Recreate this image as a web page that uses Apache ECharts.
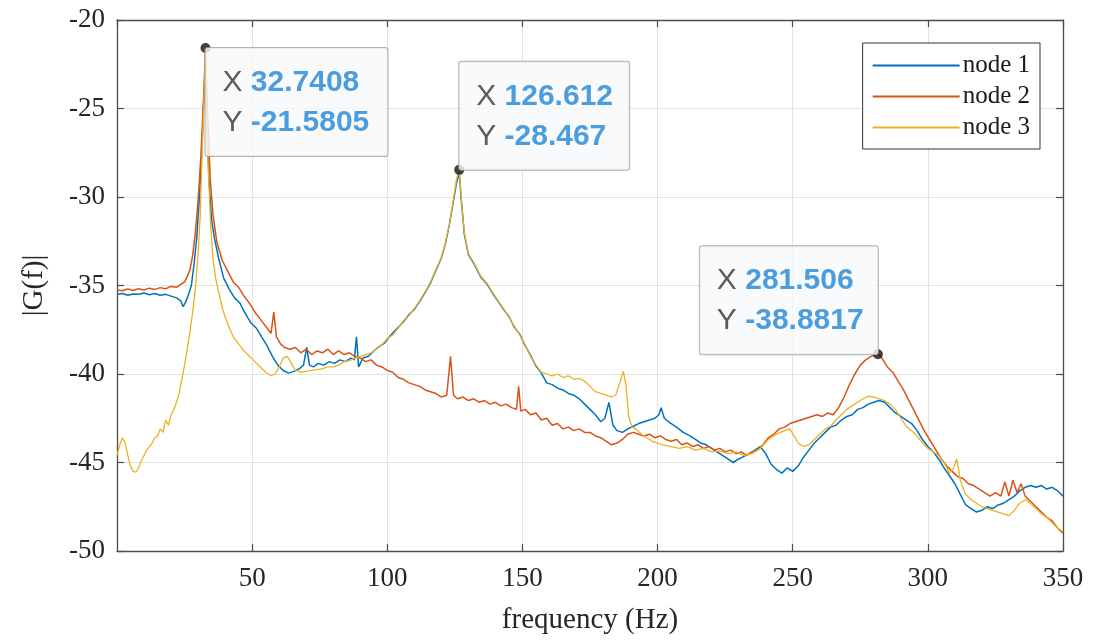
<!DOCTYPE html>
<html>
<head>
<meta charset="utf-8">
<title>|G(f)| frequency response</title>
<script src="https://cdn.jsdelivr.net/npm/echarts@6.0.0/dist/echarts.min.js"></script>
<style>
  html, body { margin: 0; padding: 0; background: #fff; }
  #chart { width: 1107px; height: 640px; }
</style>
</head>
<body>
<div id="chart"></div>
<script>
// axis ticks
var xTicks = [0, 50, 100, 150, 200, 250, 300, 350];
var yTicks = [-50, -45, -40, -35, -30, -25, -20];

var seriesNames = ['node 1', 'node 2', 'node 3'];

// [frequency Hz, |G(f)|]
var node1 = [
  [0,-35.5],[2,-35.45],[4,-35.55],[6,-35.48],[8,-35.5],[10,-35.42],[12,-35.52],[14,-35.45],[16,-35.55],[18,-35.5],
  [20,-35.6],[22,-35.7],[23.5,-35.85],[24.5,-36.2],[25.5,-35.9],[26.5,-35.5],[27.5,-35.0],[28.5,-33.8],[29.5,-32.3],
  [30.5,-30.0],[31.5,-27.0],[32.2,-24.2],[32.74,-22.4],[33.3,-25.5],[34,-29.0],[35,-31.3],[36,-32.3],[37.5,-33.4],
  [39.5,-34.6],[41.5,-35.2],[43.5,-35.7],[45.5,-36.0],[47.5,-36.6],[49.5,-37.1],[51.5,-37.4],[53.5,-37.9],[55.5,-38.4],
  [57.5,-39.0],[59.5,-39.5],[61.5,-39.8],[63.5,-39.95],[65.5,-39.85],[67.5,-39.7],[69,-39.5],[70.2,-38.5],[71.2,-39.5],
  [72.7,-39.6],[74.5,-39.4],[76.5,-39.5],[78.5,-39.3],[80.5,-39.4],[82.5,-39.2],[84.5,-39.3],[86.5,-39.1],[87.8,-39.2],
  [88.6,-37.9],[89.4,-39.6],[91,-39.1],[93,-39.0],[95,-38.7],[97,-38.45],[99,-38.25],[101,-37.85],[103.5,-37.45],
  [106,-37.05],[108,-36.65],[110,-36.35],[112,-35.9],[114,-35.4],[116,-34.85],[118,-34.15],[120,-33.45],[121.5,-32.65],
  [123,-31.55],[124.5,-30.2],[125.5,-29.3],[126.6,-28.6],[127.5,-30.4],[128.5,-32.1],[130,-33.25],[132,-33.75],
  [134.5,-34.5],[137,-34.95],[139,-35.45],[141,-35.9],[143,-36.35],[145,-36.75],[147,-37.35],[149,-37.75],[151,-38.4],
  [153,-38.95],[155,-39.55],[157,-39.95],[159,-40.5],[161,-40.6],[163,-40.8],[165,-40.9],[167,-41.1],[169,-41.2],
  [171,-41.4],[173,-41.7],[175,-42.0],[177,-42.3],[179,-42.7],[180.5,-42.5],[182,-41.6],[183.5,-42.9],[185,-43.2],
  [187,-43.3],[189,-43.1],[191,-42.95],[193,-42.8],[195,-42.7],[197,-42.6],[199,-42.5],[200.5,-42.3],[201.3,-41.9],
  [202.5,-42.5],[204.5,-42.75],[207,-43.0],[209.5,-43.3],[212,-43.5],[214,-43.7],[216,-43.9],[218,-44.0],[220,-44.2],
  [222,-44.4],[224,-44.6],[226,-44.8],[228,-45.0],[230,-44.8],[232,-44.65],[234,-44.5],[236,-44.3],[238,-44.1],
  [240,-44.5],[242,-45.1],[244,-45.4],[246,-45.6],[248,-45.3],[250,-45.5],[252,-45.2],[254,-44.7],[256,-44.3],
  [258,-43.9],[260,-43.6],[262,-43.3],[264,-43.0],[266,-42.9],[268,-42.6],[270,-42.4],[272,-42.3],[274,-42.0],
  [276,-41.9],[278,-41.7],[280,-41.6],[282,-41.5],[284,-41.6],[286,-41.9],[288,-42.2],[290,-42.4],[292,-42.6],
  [294,-42.8],[296,-43.2],[298,-43.7],[300,-44.1],[302,-44.4],[304,-44.8],[306,-45.3],[308,-45.75],[310,-46.2],
  [312,-46.8],[314,-47.4],[316,-47.6],[318,-47.8],[320,-47.7],[322,-47.5],[324,-47.6],[326,-47.4],[328,-47.3],
  [330,-47.1],[332,-46.9],[334,-46.6],[336,-46.4],[338,-46.3],[340,-46.4],[342,-46.3],[344,-46.5],[346,-46.4],
  [348,-46.6],[350,-46.9]
];

var node2 = [
  [0,-35.25],[2,-35.3],[4,-35.2],[6,-35.28],[8,-35.18],[10,-35.25],[12,-35.15],[14,-35.22],[16,-35.12],[18,-35.18],
  [20,-35.05],[22,-35.1],[24,-34.9],[25,-34.8],[26,-34.5],[27,-34.1],[28,-33.3],[29,-32.0],[30,-30.2],[31,-27.8],
  [32,-24.5],[32.74,-21.58],[33.5,-25.2],[34.5,-29.0],[35.5,-31.0],[37,-32.6],[39,-33.6],[41,-34.2],[43,-34.8],
  [45,-35.1],[47,-35.6],[49,-36.0],[51,-36.5],[53,-36.9],[55,-37.3],[57,-37.7],[58,-36.5],[59,-37.9],[60.5,-38.3],
  [62,-38.5],[64,-38.6],[66,-38.5],[68,-38.8],[70,-38.6],[72,-38.9],[74,-38.7],[76,-38.8],[78,-38.6],[80,-38.9],
  [82,-38.7],[84,-38.9],[86,-38.8],[88,-39.0],[90,-39.1],[92,-39.3],[94,-39.2],[96,-39.5],[98,-39.6],[100,-39.8],
  [102,-39.9],[104,-40.2],[106,-40.3],[108,-40.5],[110,-40.6],[112,-40.7],[114,-40.9],[116,-41.0],[118,-41.1],
  [120,-41.3],[122,-41.2],[123.4,-39.0],[124.5,-41.2],[126,-41.4],[128,-41.3],[130,-41.5],[132,-41.4],[134,-41.6],
  [136,-41.5],[138,-41.7],[140,-41.6],[142,-41.8],[144,-41.7],[146,-41.9],[147.8,-42.0],[148.6,-40.7],[149.4,-42.1],
  [151,-42.0],[153,-42.3],[155,-42.2],[157,-42.6],[159,-42.5],[161,-42.9],[163,-42.8],[165,-43.1],[167,-43.0],
  [169,-43.2],[171,-43.1],[173,-43.3],[175,-43.3],[177,-43.5],[179,-43.6],[181,-43.8],[183,-44.0],[185,-43.9],
  [187,-43.7],[189,-43.4],[191,-43.3],[193,-43.4],[195,-43.5],[197,-43.4],[199,-43.6],[201,-43.5],[203,-43.7],
  [205,-43.8],[207,-43.7],[209,-44.0],[211,-43.9],[213,-44.1],[215,-44.0],[217,-44.2],[219,-44.1],[221,-44.3],
  [223,-44.2],[225,-44.4],[227,-44.3],[229,-44.5],[231,-44.4],[233,-44.6],[235,-44.4],[237,-44.3],[239,-44.0],
  [241,-43.6],[243,-43.4],[245,-43.1],[247,-43.0],[249,-42.8],[251,-42.7],[253,-42.6],[255,-42.5],[257,-42.4],
  [259,-42.3],[261,-42.4],[263,-42.2],[265,-42.3],[267,-41.9],[269,-41.3],[271,-40.6],[273,-40.0],[275,-39.5],
  [277,-39.2],[279,-39.0],[281.5,-38.88],[283,-39.1],[285,-39.6],[287,-39.9],[289,-40.4],[291,-40.9],[293,-41.5],
  [295,-42.1],[297,-42.7],[299,-43.3],[301,-43.8],[303,-44.3],[305,-44.8],[307,-45.2],[309,-45.5],[311,-45.8],
  [313,-45.9],[315,-46.2],[317,-46.3],[319,-46.5],[321,-46.7],[323,-46.9],[325,-46.7],[327,-46.9],[328.5,-46.1],
  [330,-46.9],[331.5,-46.0],[333,-46.7],[334.5,-46.2],[336,-46.9],[338,-47.2],[340,-47.5],[342,-47.8],[344,-48.1],
  [346,-48.3],[348,-48.7],[350,-49.0]
];

var node3 = [
  [0,-44.6],[1,-44.0],[2,-43.6],[3,-43.9],[4,-44.6],[5,-45.2],[6,-45.5],[7,-45.55],[8,-45.3],[9,-44.9],[10,-44.6],
  [11,-44.3],[12,-44.1],[13,-43.9],[14,-43.6],[15,-43.5],[16,-43.1],[17,-43.3],[18,-42.6],[19,-42.9],[20,-42.3],
  [21,-42.0],[22,-41.6],[23,-41.1],[24,-40.3],[25,-39.5],[26,-38.6],[27,-37.6],[28,-36.5],[29,-35.2],[30,-33.2],
  [30.8,-31.0],[31.6,-27.0],[32.2,-24.5],[32.74,-21.9],[33.2,-25.0],[33.8,-28.5],[34.6,-31.5],[35.5,-33.5],
  [36.5,-34.6],[37.5,-35.3],[39,-36.3],[41,-37.2],[43,-37.9],[45,-38.3],[47,-38.7],[49,-39.0],[51,-39.3],[53,-39.6],
  [55,-39.9],[57,-40.1],[58.5,-40.0],[60,-39.6],[61.5,-39.1],[63,-39.0],[64.5,-39.4],[66,-39.8],[68,-39.9],
  [70,-39.85],[72,-39.8],[74,-39.75],[76,-39.7],[78,-39.6],[80,-39.6],[82,-39.5],[84,-39.3],[86,-39.25],[88,-39.1],
  [90,-39.0],[92,-38.9],[94,-38.8],[96,-38.6],[98,-38.35],[100,-38.0],[102,-37.8],[104,-37.4],[106,-37.0],
  [108,-36.7],[110,-36.3],[112,-35.85],[114,-35.35],[116,-34.8],[118,-34.1],[120,-33.4],[121.5,-32.6],[123,-31.5],
  [124.5,-30.1],[125.6,-29.0],[126.612,-28.467],[127.5,-30.3],[128.5,-32.0],[130,-33.2],[132,-33.7],[134.5,-34.45],
  [137,-34.9],[139,-35.4],[141,-35.85],[143,-36.3],[145,-36.8],[147,-37.3],[149,-37.8],[151,-38.35],[153,-39.0],
  [155,-39.5],[157,-39.9],[159,-40.0],[161,-40.1],[163,-40.0],[165,-40.2],[167,-40.1],[169,-40.3],[171,-40.25],
  [173,-40.4],[175,-40.7],[177,-41.0],[179,-41.1],[181,-41.2],[183,-41.3],[184.5,-41.2],[186,-40.5],[187.3,-39.85],
  [188.3,-40.6],[189.3,-42.4],[190.5,-43.0],[192,-43.1],[194,-43.4],[196,-43.6],[198,-43.8],[200,-43.9],[202,-44.0],
  [205,-44.1],[208,-44.2],[211,-44.1],[214,-44.3],[217,-44.2],[220,-44.4],[223,-44.35],[226,-44.5],[229,-44.4],
  [232,-44.6],[235,-44.5],[238,-44.2],[241,-43.7],[244,-43.4],[247,-43.2],[249,-43.1],[250.5,-43.5],[252,-43.9],
  [254,-44.1],[256,-44.0],[258,-43.7],[260,-43.4],[262,-43.1],[264,-42.95],[266,-42.6],[268,-42.3],[270,-42.0],
  [272,-41.8],[274,-41.6],[276,-41.4],[278,-41.25],[280,-41.3],[282,-41.4],[284,-41.5],[286,-41.7],[288,-42.0],
  [290,-42.5],[292,-42.95],[294,-43.2],[296,-43.5],[298,-43.9],[300,-44.2],[302,-44.4],[304,-44.6],[306,-45.0],
  [308,-45.6],[309.5,-45.3],[310.7,-44.8],[312,-46.0],[314,-46.8],[316,-47.1],[318,-47.3],[320,-47.5],[322,-47.6],
  [324,-47.7],[326,-47.8],[328,-47.9],[330,-48.0],[332,-47.7],[334,-47.3],[336,-47.1],[338,-47.3],[340,-47.6],
  [342,-47.9],[344,-48.1],[346,-48.4],[348,-48.7],[350,-48.9]
];

// data tips
var tipX = [32.7408, 126.612, 281.506];
var tipY = [-21.5805, -28.467, -38.8817];

var colors = ['#0072BD', '#D95319', '#EDB120'];
var serif = 'Liberation Serif, Times New Roman, serif';
var sans = 'Liberation Sans, Arial, sans-serif';

var chart = echarts.init(document.getElementById('chart'));

var dotSize = 10;
var tipPad = [15, 17, 13, 17];
// box width of each tip, and which corner of the box sits on the point
var tipBoxW = [182, 170, 178];
var tipCorner = [
  { right: false, bottom: false },
  { right: false, bottom: true },
  { right: true, bottom: true }
];

var tipData = tipX.map(function (x, i) {
  var c = tipCorner[i];
  var w = tipBoxW[i];
  return {
    value: [x, tipY[i]],
    label: {
      show: true,
      width: w - tipPad[1] - tipPad[3],
      position: [dotSize / 2 - (c.right ? w : 0), dotSize / 2],
      align: 'left',
      verticalAlign: c.bottom ? 'bottom' : 'top',
      formatter: '{k|X} {v|' + x + '}\n{k|Y} {v|' + tipY[i] + '}'
    }
  };
});

function axisBase(pos, ticks, showLabel) {
  return {
    type: 'value',
    position: pos,
    min: ticks[0],
    max: ticks[ticks.length - 1],
    interval: ticks[1] - ticks[0],
    axisLine: { show: true, onZero: false, lineStyle: { color: '#4d4d4d', width: 1.3 } },
    axisTick: { show: true, inside: true, length: 7, lineStyle: { color: '#4d4d4d', width: 1.2 } },
    axisLabel: { show: showLabel, color: '#262626', fontFamily: serif, fontSize: 27 },
    splitLine: { show: false }
  };
}

var xBottom = axisBase('bottom', xTicks, true);
xBottom.axisLabel.showMinLabel = false;
xBottom.axisLabel.margin = 14;
xBottom.splitLine = { show: true, lineStyle: { color: '#e3e3e3', width: 1 } };
xBottom.name = 'frequency (Hz)';
xBottom.nameLocation = 'middle';
xBottom.nameGap = 55;
xBottom.nameTextStyle = { color: '#262626', fontFamily: serif, fontSize: 29 };

var yLeft = axisBase('left', yTicks, true);
yLeft.axisLabel.margin = 12;
yLeft.splitLine = { show: true, lineStyle: { color: '#e3e3e3', width: 1 } };
yLeft.name = '|G(f)|';
yLeft.nameLocation = 'middle';
yLeft.nameGap = 68;
yLeft.nameTextStyle = { color: '#262626', fontFamily: serif, fontSize: 29 };

var option = {
  backgroundColor: '#ffffff',
  animation: false,
  grid: { left: 117, right: 44, top: 20, bottom: 88 },
  xAxis: [xBottom, axisBase('top', xTicks, false)],
  yAxis: [yLeft, axisBase('right', yTicks, false)],
  legend: {
    orient: 'vertical',
    right: 67,
    top: 43,
    data: seriesNames,
    icon: 'rect',
    itemWidth: 87,
    itemHeight: 2,
    itemGap: 6,
    padding: [10, 10, 9, 10],
    backgroundColor: '#ffffff',
    borderColor: '#333333',
    borderWidth: 1,
    borderRadius: 0,
    textStyle: { color: '#1a1a1a', fontFamily: serif, fontSize: 25, padding: [0, 0, 0, -2] }
  },
  series: [
    { name: seriesNames[0], type: 'line', data: node1, symbol: 'none', color: colors[0], lineStyle: { width: 1.5 }, z: 2 },
    { name: seriesNames[1], type: 'line', data: node2, symbol: 'none', color: colors[1], lineStyle: { width: 1.5 }, z: 3 },
    { name: seriesNames[2], type: 'line', data: node3, symbol: 'none', color: colors[2], lineStyle: { width: 1.3 }, z: 4 },
    {
      name: 'tips',
      type: 'scatter',
      data: tipData,
      symbol: 'circle',
      symbolSize: dotSize,
      itemStyle: { color: '#111111' },
      z: 10,
      label: {
        backgroundColor: '#f7f9fb',
        borderColor: '#a0a0a0',
        borderWidth: 1,
        borderRadius: 2,
        padding: tipPad,
        rich: {
          k: { color: '#333333', fontFamily: sans, fontSize: 30, lineHeight: 40 },
          v: { color: '#1f86d4', fontFamily: sans, fontSize: 30, fontWeight: 'bold', lineHeight: 40, padding: [0, 0, 0, 5] }
        }
      }
    }
  ]
};

chart.setOption(option);
</script>
</body>
</html>
